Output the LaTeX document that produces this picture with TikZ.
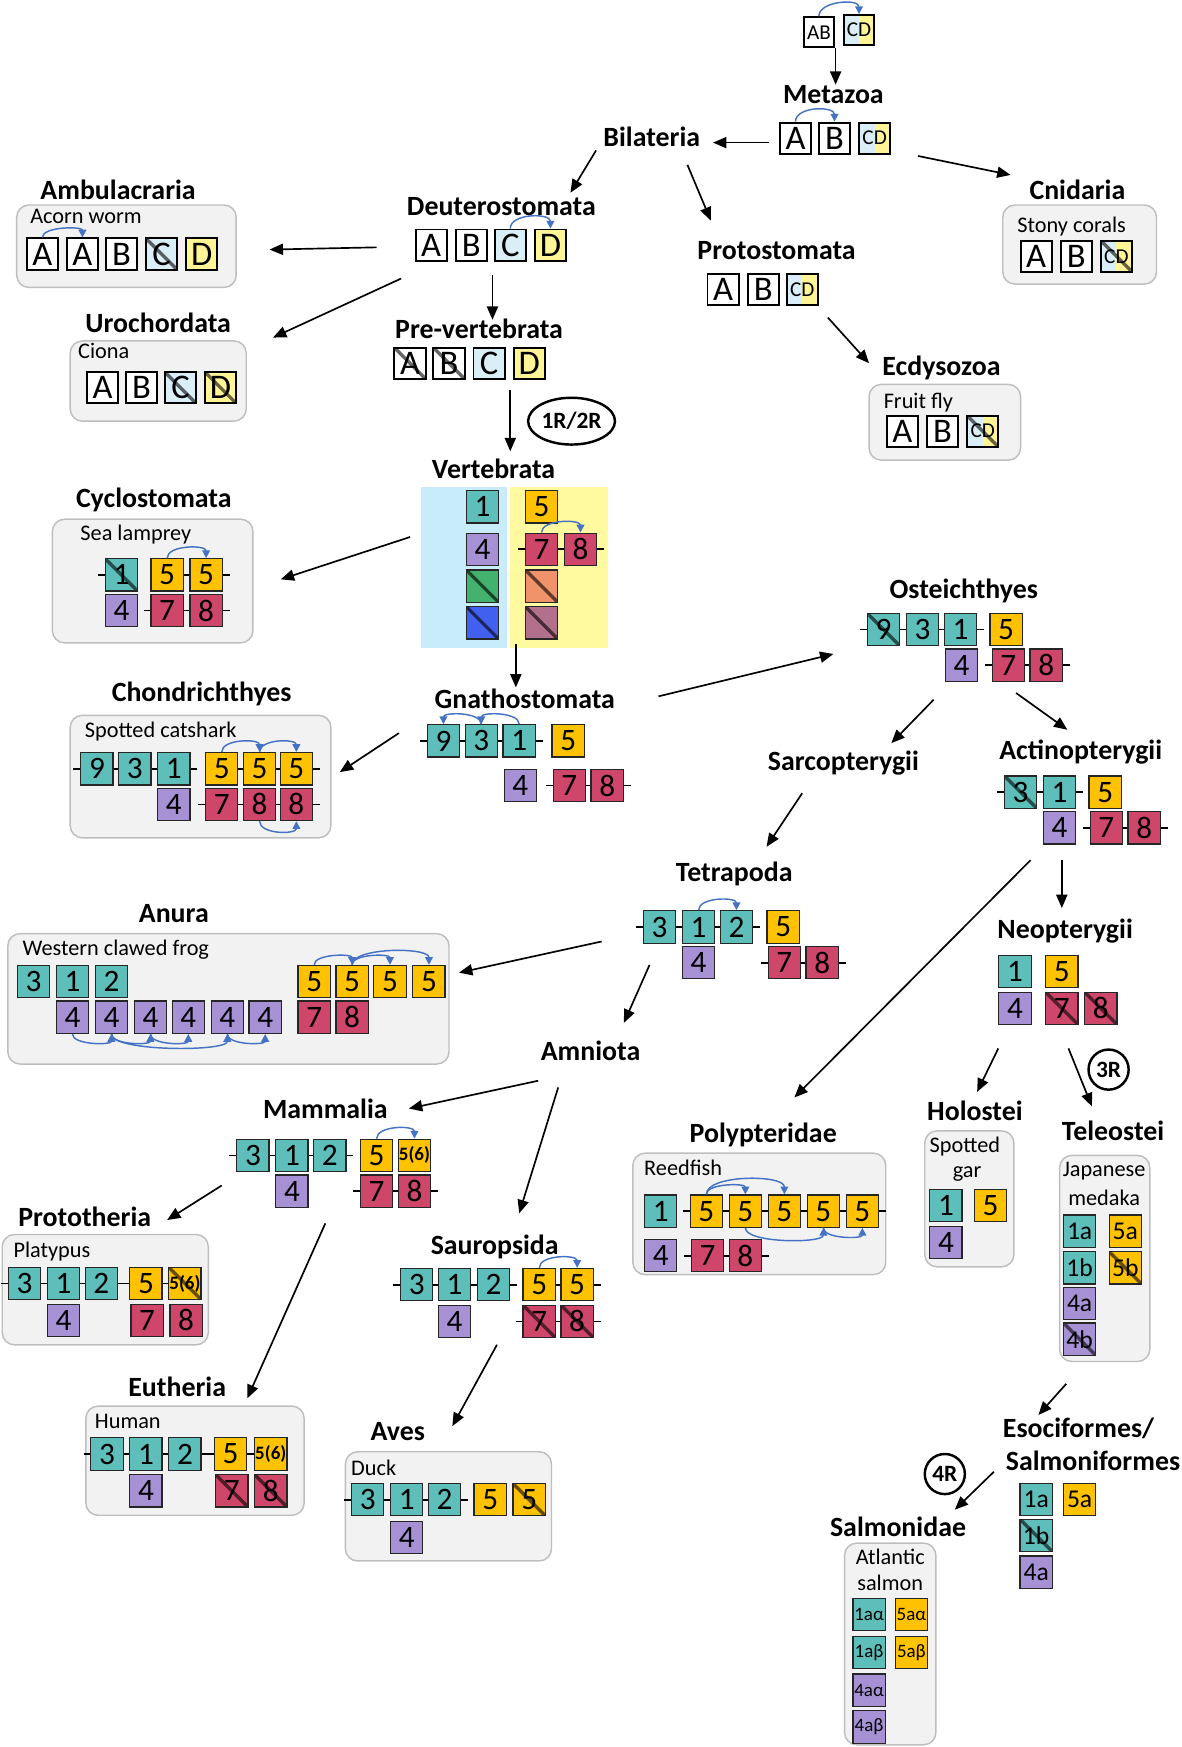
\documentclass[tikz,border=0pt]{standalone}
\usepackage{fontspec}
\setmainfont{Carlito}
\usetikzlibrary{arrows.meta,calc,shapes.geometric}
\definecolor{cteal}{RGB}{94,190,186}
\definecolor{cgold}{RGB}{255,194,0}
\definecolor{clav}{RGB}{166,145,212}
\definecolor{cred}{RGB}{206,70,106}
\definecolor{cgreen}{RGB}{66,178,110}
\definecolor{cblue}{RGB}{66,96,240}
\definecolor{corange}{RGB}{240,146,106}
\definecolor{cmauve}{RGB}{178,112,140}
\definecolor{bgblue}{RGB}{200,236,250}
\definecolor{bgyel}{RGB}{255,250,160}
\definecolor{lblue}{RGB}{218,238,248}
\definecolor{lyel}{RGB}{255,244,150}
\definecolor{arcblue}{RGB}{68,114,196}
\definecolor{spfill}{RGB}{242,242,242}
\definecolor{spdraw}{RGB}{190,190,190}
\newcommand\G[5]{\node[#1] (#2) at (#3,#4) {#5};}
\newcommand\lnk[2]{\draw[chn] (#1.east) -- (#2.west);}
\newcommand\stL[1]{\draw[chn] (#1.west) -- ++(-6,0);}
\newcommand\stR[1]{\draw[chn] (#1.east) -- ++(6,0);}
\newcommand\tarc[3]{\draw[barc] (#2.north) .. controls ($(#2.north)+(0,-#1)$) and ($(#3.north)+(0,-#1)$) .. (#3.north);}
\newcommand\barcb[3]{\draw[barc] (#2.south) .. controls ($(#2.south)+(0,#1)$) and ($(#3.south)+(0,#1)$) .. (#3.south);}
\newcommand\arw[5]{\coordinate (#1s) at (#2,#3); \coordinate (#1e) at (#4,#5); \draw[arr] (#1s) -- (#1e);}
\begin{document}
\begin{tikzpicture}[x=1pt,y=-1pt,
  gene/.style={draw=black!85, line width=1.1pt, minimum size=29pt, inner sep=0pt, font=\fontsize{28}{28}\selectfont},
  te/.style={gene, fill=cteal}, go/.style={gene, fill=cgold}, lv/.style={gene, fill=clav}, rd/.style={gene, fill=cred},
  gr/.style={gene, fill=cgreen}, bl/.style={gene, fill=cblue}, orr/.style={gene, fill=corange}, mv/.style={gene, fill=cmauve},
  lt/.style={draw=black, line width=1.7pt, fill=white, minimum size=28pt, inner sep=0pt, font=\fontsize{31}{31}\selectfont},
  lc/.style={lt, fill=lblue}, ld/.style={lt, fill=lyel},
  cdbox/.style={lt, font=\fontsize{19}{19}\selectfont, path picture={\fill[lblue] (path picture bounding box.south west) rectangle (path picture bounding box.north); \fill[lyel] (path picture bounding box.north) rectangle (path picture bounding box.south east);}},
  cdx/.style={lt, font=\fontsize{19}{19}\selectfont, path picture={\fill[lblue] (path picture bounding box.south west) rectangle (path picture bounding box.north); \fill[lyel] (path picture bounding box.north) rectangle (path picture bounding box.south east); \draw[black, opacity=.6, line width=3pt] (path picture bounding box.north west) -- (path picture bounding box.south east);}},
  strk/.style={path picture={\draw[black, opacity=.6, line width=3pt] (path picture bounding box.north west) -- (path picture bounding box.south east);}},
  sm/.style={font=\fontsize{23}{23}\selectfont},
  xs/.style={font=\fontsize{17}{17}\selectfont},
  f56/.style={font=\fontsize{17}{17}\selectfont\bfseries},
  lab/.style={font=\fontsize{25}{28}\selectfont\bfseries, inner sep=0pt},
  sp/.style={font=\fontsize{20}{22}\selectfont, inner sep=0pt, anchor=west},
  spbox/.style={draw=spdraw, fill=spfill, line width=1.3pt, rounded corners=11pt},
  arr/.style={-{Triangle[length=12pt,width=10pt]}, line width=1.5pt},
  barc/.style={arcblue, line width=1.3pt, -{Triangle[length=7pt,width=7pt]}},
  chn/.style={line width=1.6pt, black},
  rnd/.style={draw, line width=2.2pt, inner sep=0pt, font=\fontsize{21}{21}\selectfont\bfseries}
]
\useasboundingbox (0,0) rectangle (1060,1568);

% ---- root
\G{lt, minimum size=27pt, font=\fontsize{19}{19}\selectfont}{rAB}{735}{29}{AB}
\G{cdbox, minimum size=27pt}{rCD}{771}{27}{CD}
\tarc{14}{rAB}{rCD}
\arw{a0}{750}{43}{750}{76}

% ---- Metazoa
\node[lab] (mz) at (748,85) {Metazoa};
\G{lt}{mzA}{714}{124}{A} \G{lt}{mzB}{749}{124}{B} \G{cdbox}{mzCD}{785}{124}{CD}
\tarc{14}{mzA}{mzB}
\node[lab] (bil) at (585,123) {Bilateria};
\arw{a1}{690}{128}{640}{128}
\arw{a2}{824}{140}{907}{157}

% ---- Cnidaria
\node[lab] (cni) at (967,170) {Cnidaria};
\path[spbox] (900,184) rectangle (1038,255);
\node[sp] (cniS) at (913,203) {Stony corals};
\G{lt}{cnA}{930}{230}{A} \G{lt}{cnB}{966}{230}{B} \G{cdx}{cnCD}{1002}{230}{CD}

% ---- Protostomata
\arw{a3}{535}{135}{512}{173}
\arw{a4}{617}{148}{638}{198}
\node[lab] (pro) at (697,225) {Protostomata};
\G{lt}{prA}{649}{260}{A} \G{lt}{prB}{685}{260}{B} \G{cdbox}{prCD}{720}{260}{CD}
\arw{a5}{743}{285}{780}{326}
\node[lab] (ecd) at (845,330) {Ecdysozoa};
\path[spbox] (780,345) rectangle (916,413);
\node[sp] (ecdS) at (793,361) {Fruit fly};
\G{lt}{ecA}{810}{387}{A} \G{lt}{ecB}{846}{387}{B} \G{cdx}{ecCD}{882}{387}{CD}

% ---- Deuterostomata
\node[lab] (deu) at (450,185) {Deuterostomata};
\G{lt}{deA}{387}{220}{A} \G{lt}{deB}{423}{220}{B} \G{lc}{deC}{458}{220}{C} \G{ld}{deD}{494}{220}{D}
\tarc{14}{deC}{deD}
\arw{a6}{338}{222}{242}{224}
\arw{a7}{360}{250}{245}{303}
\arw{a8}{442}{247}{442}{287}

% ---- Ambulacraria
\node[lab] (amb) at (106,170) {Ambulacraria};
\path[spbox] (15,184) rectangle (212,258);
\node[sp] (ambS) at (27,194) {Acorn worm};
\G{lt}{amA1}{38}{228}{A} \G{lt}{amA2}{74}{228}{A} \G{lt}{amB}{109}{228}{B} \G{lc,strk}{amC}{145}{228}{C} \G{ld}{amD}{181}{228}{D}
\tarc{10}{amA1}{amA2}

% ---- Urochordata
\node[lab] (uro) at (142,290) {Urochordata};
\path[spbox] (63,306) rectangle (221,378);
\node[sp] (uroS) at (70,315) {Ciona};
\G{lt}{urA}{92}{348}{A} \G{lt}{urB}{127}{348}{B} \G{lc,strk}{urC}{162}{348}{C} \G{ld,strk}{urD}{198}{348}{D}

% ---- Pre-vertebrata
\node[lab] (pre) at (430,295) {Pre-vertebrata};
\G{lt,strk}{pvA}{368}{326}{A} \G{lt,strk}{pvB}{403}{326}{B} \G{lc}{pvC}{439}{326}{C} \G{ld}{pvD}{475}{326}{D}
\arw{a9}{458}{350}{458}{405}
\node[rnd, ellipse, minimum width=78pt, minimum height=42pt] (r12) at (513,378) {1R/2R};

% ---- Vertebrata
\node[lab] (ver) at (443,421) {Vertebrata};
\path[fill=bgblue] (378,437) rectangle (455,582);
\path[fill=bgyel] (458,437) rectangle (546,582);
\G{te}{v1}{433}{455}{1} \G{lv}{v4}{433}{493}{4} \G{gr,strk}{vg}{433}{526}{} \G{bl,strk}{vb}{433}{559}{}
\G{go}{v5}{486}{455}{5} \G{rd}{v7}{486}{493}{7} \G{rd}{v8}{521}{493}{8} \G{orr,strk}{vo}{486}{526}{} \G{mv,strk}{vm}{486}{559}{}
\stL{v7} \lnk{v7}{v8} \stR{v8}
\tarc{12}{v7}{v8}
\arw{a10}{368}{482}{252}{520}
\arw{a11}{463}{578}{463}{617}

% ---- Cyclostomata
\node[lab] (cyc) at (138,449) {Cyclostomata};
\path[spbox] (47,466) rectangle (227,577);
\node[sp] (cycS) at (72,480) {Sea lamprey};
\G{te,strk}{cy1}{109}{516}{1} \G{go}{cy5a}{150}{516}{5} \G{go}{cy5b}{185}{516}{5}
\stL{cy1} \lnk{cy5a}{cy5b} \stR{cy5b}
\G{lv}{cy4}{109}{548}{4} \G{rd}{cy7}{150}{548}{7} \G{rd}{cy8}{185}{548}{8}
\stL{cy7} \lnk{cy7}{cy8} \stR{cy8}
\tarc{12}{cy5a}{cy5b}

% ---- Chondrichthyes
\node[lab] (cho) at (181,623) {Chondrichthyes};
\path[spbox] (63,642) rectangle (297,752);
\node[sp] (choS) at (76,657) {Spotted catshark};
\G{te}{ch9}{87}{690}{9} \G{te}{ch3}{121}{690}{3} \G{te}{ch1}{156}{690}{1}
\G{go}{ch5a}{199}{690}{5} \G{go}{ch5b}{233}{690}{5} \G{go}{ch5c}{266}{690}{5}
\stL{ch9}\lnk{ch9}{ch3}\lnk{ch3}{ch1}\stR{ch1}\lnk{ch5a}{ch5b}\lnk{ch5b}{ch5c}\stR{ch5c}
\G{lv}{ch4}{156}{722}{4} \G{rd}{ch7}{199}{722}{7} \G{rd}{ch8a}{233}{722}{8} \G{rd}{ch8b}{266}{722}{8}
\stL{ch7}\lnk{ch7}{ch8a}\lnk{ch8a}{ch8b}\stR{ch8b}
\tarc{12}{ch5a}{ch5b} \tarc{12}{ch5b}{ch5c} \barcb{12}{ch8a}{ch8b}

% ---- Gnathostomata
\node[lab] (gna) at (471,627) {Gnathostomata};
\arw{a12}{358}{658}{305}{693}
\G{te}{gn9}{398}{665}{9} \G{te}{gn3}{432}{665}{3} \G{te}{gn1}{466}{665}{1} \G{go}{gn5}{510}{665}{5}
\stL{gn9}\lnk{gn9}{gn3}\lnk{gn3}{gn1}\stR{gn1}
\G{lv}{gn4}{467}{705}{4} \G{rd}{gn7}{511}{705}{7} \G{rd}{gn8}{545}{705}{8}
\stL{gn7}\lnk{gn7}{gn8}\stR{gn8}
\tarc{11}{gn1}{gn3} \tarc{11}{gn3}{gn9}
\arw{a13}{591}{625}{748}{587}

% ---- Osteichthyes
\node[lab] (ost) at (865,530) {Osteichthyes};
\G{te,strk}{os9}{793}{565}{9} \G{te}{os3}{828}{565}{3} \G{te}{os1}{862}{565}{1} \G{go}{os5}{903}{565}{5}
\stL{os9}\lnk{os9}{os3}\lnk{os3}{os1}\stR{os1}
\G{lv}{os4}{863}{597}{4} \G{rd}{os7}{905}{597}{7} \G{rd}{os8}{939}{597}{8}
\stL{os7}\lnk{os7}{os8}\stR{os8}
\arw{a14}{838}{628}{800}{667}
\arw{a15}{912}{622}{958}{655}
\node[lab] (sar) at (757,685) {Sarcopterygii};
\node[lab] (act) at (970,675) {Actinopterygii};
\G{te,strk}{ac3}{916}{711}{3} \G{te}{ac1}{951}{711}{1} \G{go}{ac5}{992}{711}{5}
\stL{ac3}\lnk{ac3}{ac1}\stR{ac1}
\G{lv}{ac4}{951}{743}{4} \G{rd}{ac7}{993}{743}{7} \G{rd}{ac8}{1027}{743}{8}
\stL{ac7}\lnk{ac7}{ac8}\stR{ac8}
\arw{a16}{720}{712}{688}{760}
\arw{a17}{925}{772}{713}{985}
\arw{a18}{953}{772}{953}{815}

% ---- Tetrapoda
\node[lab] (tet) at (659,784) {Tetrapoda};
\G{te}{tt3}{592}{832}{3} \G{te}{tt1}{627}{832}{1} \G{te}{tt2}{661}{832}{2} \G{go}{tt5}{703}{832}{5}
\stL{tt3}\lnk{tt3}{tt1}\lnk{tt1}{tt2}\stR{tt2}
\G{lv}{tt4}{627}{864}{4} \G{rd}{tt7}{704}{864}{7} \G{rd}{tt8}{738}{864}{8}
\stL{tt7}\lnk{tt7}{tt8}\stR{tt8}
\tarc{12}{tt1}{tt2}
\arw{a19}{540}{845}{412}{873}
\arw{a20}{583}{866}{560}{918}

% ---- Anura
\node[lab] (anu) at (156,820) {Anura};
\path[spbox] (7,838) rectangle (403,955);
\node[sp] (anuS) at (20,852) {Western clawed frog};
\G{te}{an3}{30}{881}{3} \G{te}{an1}{65}{881}{1} \G{te}{an2}{100}{881}{2}
\G{go}{an5a}{282}{881}{5} \G{go}{an5b}{316}{881}{5} \G{go}{an5c}{350}{881}{5} \G{go}{an5d}{385}{881}{5}
\G{lv}{an4a}{65}{913}{4} \G{lv}{an4b}{100}{913}{4} \G{lv}{an4c}{135}{913}{4} \G{lv}{an4d}{169}{913}{4} \G{lv}{an4e}{204}{913}{4} \G{lv}{an4f}{238}{913}{4}
\G{rd}{an7}{282}{913}{7} \G{rd}{an8}{316}{913}{8}
\tarc{10}{an5a}{an5b} \tarc{10}{an5b}{an5c} \tarc{16}{an5b}{an5d}
\barcb{10}{an4a}{an4b} \barcb{10}{an4b}{an4c} \barcb{10}{an4c}{an4d} \barcb{16}{an4b}{an4e} \barcb{10}{an4e}{an4f}

% ---- Amniota
\node[lab] (amn) at (530,943) {Amniota};
\arw{a21}{483}{970}{367}{995}
\arw{a22}{501}{976}{466}{1089}

% ---- Mammalia
\node[lab] (mam) at (292,995) {Mammalia};
\G{te}{mm3}{227}{1037}{3} \G{te}{mm1}{262}{1037}{1} \G{te}{mm2}{296}{1037}{2} \G{go}{mm5}{338}{1037}{5} \G{go,f56}{mm56}{372}{1037}{5(6)}
\stL{mm3}\lnk{mm3}{mm1}\lnk{mm1}{mm2}\stR{mm2}
\G{lv}{mm4}{262}{1069}{4} \G{rd}{mm7}{338}{1069}{7} \G{rd}{mm8}{372}{1069}{8}
\stL{mm7}\lnk{mm7}{mm8}\stR{mm8}
\tarc{12}{mm5}{mm56}
\arw{a23}{199}{1064}{150}{1095}
\arw{a24}{292}{1098}{222}{1255}

% ---- Prototheria
\node[lab] (prt) at (76,1092) {Prototheria};
\path[spbox] (2,1108) rectangle (187,1207);
\node[sp] (prtS) at (12,1123) {Platypus};
\G{te}{pt3}{22}{1152}{3} \G{te}{pt1}{57}{1152}{1} \G{te}{pt2}{91}{1152}{2} \G{go}{pt5}{131}{1152}{5} \G{go,f56,strk}{pt56}{166}{1152}{5(6)}
\stL{pt3}\lnk{pt3}{pt1}\lnk{pt1}{pt2}\stR{pt2}\stL{pt5}\lnk{pt5}{pt56}
\G{lv}{pt4}{57}{1185}{4} \G{rd}{pt7}{132}{1185}{7} \G{rd}{pt8}{167}{1185}{8}

% ---- Sauropsida
\node[lab] (sau) at (444,1119) {Sauropsida};
\G{te}{sa3}{374}{1153}{3} \G{te}{sa1}{408}{1153}{1} \G{te}{sa2}{443}{1153}{2} \G{go}{sa5a}{484}{1153}{5} \G{go}{sa5b}{518}{1153}{5}
\stL{sa3}\lnk{sa3}{sa1}\lnk{sa1}{sa2}\stR{sa2}\lnk{sa5a}{sa5b}\stR{sa5b}
\G{lv}{sa4}{408}{1186}{4} \G{rd,strk}{sa7}{484}{1186}{7} \G{rd,strk}{sa8}{518}{1186}{8}
\stL{sa7}\lnk{sa7}{sa8}\stR{sa8}
\tarc{12}{sa5a}{sa5b}
\arw{a25}{446}{1207}{406}{1280}

% ---- Eutheria
\node[lab] (eut) at (159,1245) {Eutheria};
\path[spbox] (77,1262) rectangle (273,1360);
\node[sp] (eutS) at (85,1276) {Human};
\G{te}{eu3}{96}{1305}{3} \G{te}{eu1}{131}{1305}{1} \G{te}{eu2}{166}{1305}{2} \G{go}{eu5}{207}{1305}{5} \G{go,f56}{eu56}{243}{1305}{5(6)}
\stL{eu3}\lnk{eu3}{eu1}\lnk{eu1}{eu2}\stR{eu2}\stL{eu5}\lnk{eu5}{eu56}
\G{lv}{eu4}{131}{1338}{4} \G{rd,strk}{eu7}{208}{1338}{7} \G{rd,strk}{eu8}{243}{1338}{8}

% ---- Aves
\node[lab] (ave) at (357,1285) {Aves};
\path[spbox] (310,1303) rectangle (495,1401);
\node[sp] (aveS) at (315,1317) {Duck};
\G{te}{av3}{330}{1346}{3} \G{te}{av1}{365}{1346}{1} \G{te}{av2}{399}{1346}{2} \G{go}{av5a}{440}{1346}{5} \G{go,strk}{av5b}{475}{1346}{5}
\stL{av3}\lnk{av3}{av1}\lnk{av1}{av2}\stR{av2}
\G{lv}{av4}{365}{1380}{4}

% ---- Neopterygii
\node[lab] (neo) at (956,836) {Neopterygii};
\G{te}{ne1}{911}{872}{1} \G{go}{ne5}{953}{872}{5} \G{lv}{ne4}{911}{905}{4} \G{rd,strk}{ne7}{953}{905}{7} \G{rd,strk}{ne8}{988}{905}{8}
\arw{a26}{896}{941}{877}{980}
\arw{a27}{959}{941}{980}{993}
\node[rnd, circle, minimum size=36pt] (r3) at (995,960) {3R};

% ---- Polypteridae
\node[lab] (pol) at (685,1019) {Polypteridae};
\path[spbox] (568,1035) rectangle (795,1144);
\node[sp] (polS) at (578,1048) {Reedfish};
\G{te}{po1}{593}{1087}{1}
\G{go}{po5a}{634}{1087}{5} \G{go}{po5b}{669}{1087}{5} \G{go}{po5c}{704}{1087}{5} \G{go}{po5d}{739}{1087}{5} \G{go}{po5e}{774}{1087}{5}
\stL{po5a}\lnk{po5a}{po5b}\lnk{po5b}{po5c}\lnk{po5c}{po5d}\lnk{po5d}{po5e}\stR{po5e}
\G{lv}{po4}{593}{1127}{4} \G{rd}{po7}{635}{1127}{7} \G{rd}{po8}{669}{1127}{8}
\stL{po7}\lnk{po7}{po8}\stR{po8}
\tarc{10}{po5a}{po5b} \tarc{18}{po5a}{po5c}
\barcb{14}{po5b}{po5d} \barcb{10}{po5d}{po5e}

% ---- Holostei
\node[lab] (hol) at (875,997) {Holostei};
\path[spbox] (830,1015) rectangle (910,1137);
\node[sp, anchor=center] (holS1) at (866,1029) {Spotted};
\node[sp, anchor=center] (holS2) at (868,1054) {gar};
\G{te}{ho1}{849}{1082}{1} \G{go}{ho5}{889}{1082}{5} \G{lv}{ho4}{849}{1115}{4}

% ---- Teleostei
\node[lab] (tel) at (999,1015) {Teleostei};
\path[spbox] (951,1037) rectangle (1032,1222);
\node[sp, anchor=center] (telS1) at (991,1051) {Japanese};
\node[sp, anchor=center] (telS2) at (991,1075) {medaka};
\G{te,sm}{tl1a}{969}{1105}{1a} \G{go,sm}{tl5a}{1010}{1105}{5a}
\G{te,sm}{tl1b}{969}{1138}{1b} \G{go,sm,strk}{tl5b}{1010}{1138}{5b}
\G{lv,sm}{tl4a}{969}{1170}{4a} \G{lv,sm,strk}{tl4b}{969}{1202}{4b}

% ---- Esociformes / Salmoniformes
\arw{a28}{957}{1242}{932}{1270}
\node[lab] (eso1) at (968,1282) {Esociformes/};
\node[lab] (eso2) at (981,1311) {Salmoniformes};
\G{te,sm}{es1a}{930}{1346}{1a} \G{go,sm}{es5a}{969}{1346}{5a}
\G{te,sm,strk}{es1b}{930}{1378}{1b} \G{lv,sm}{es4a}{930}{1411}{4a}
\arw{a29}{892}{1321}{857}{1355}
\node[rnd, circle, minimum size=36pt] (r4) at (848,1323) {4R};

% ---- Salmonidae
\node[lab] (sal) at (806,1370) {Salmonidae};
\path[spbox] (758,1385) rectangle (840,1566);
\node[sp, anchor=center] (salS1) at (799,1397) {Atlantic};
\node[sp, anchor=center] (salS2) at (799,1421) {salmon};
\G{te,xs}{sm1a}{780}{1449}{1aα} \G{go,xs}{sm5a}{818}{1449}{5aα}
\G{te,xs}{sm1b}{780}{1483}{1aβ} \G{go,xs}{sm5b}{818}{1483}{5aβ}
\G{lv,xs}{sm4a}{780}{1517}{4aα} \G{lv,xs}{sm4b}{780}{1550}{4aβ}
\end{tikzpicture}
\end{document}
